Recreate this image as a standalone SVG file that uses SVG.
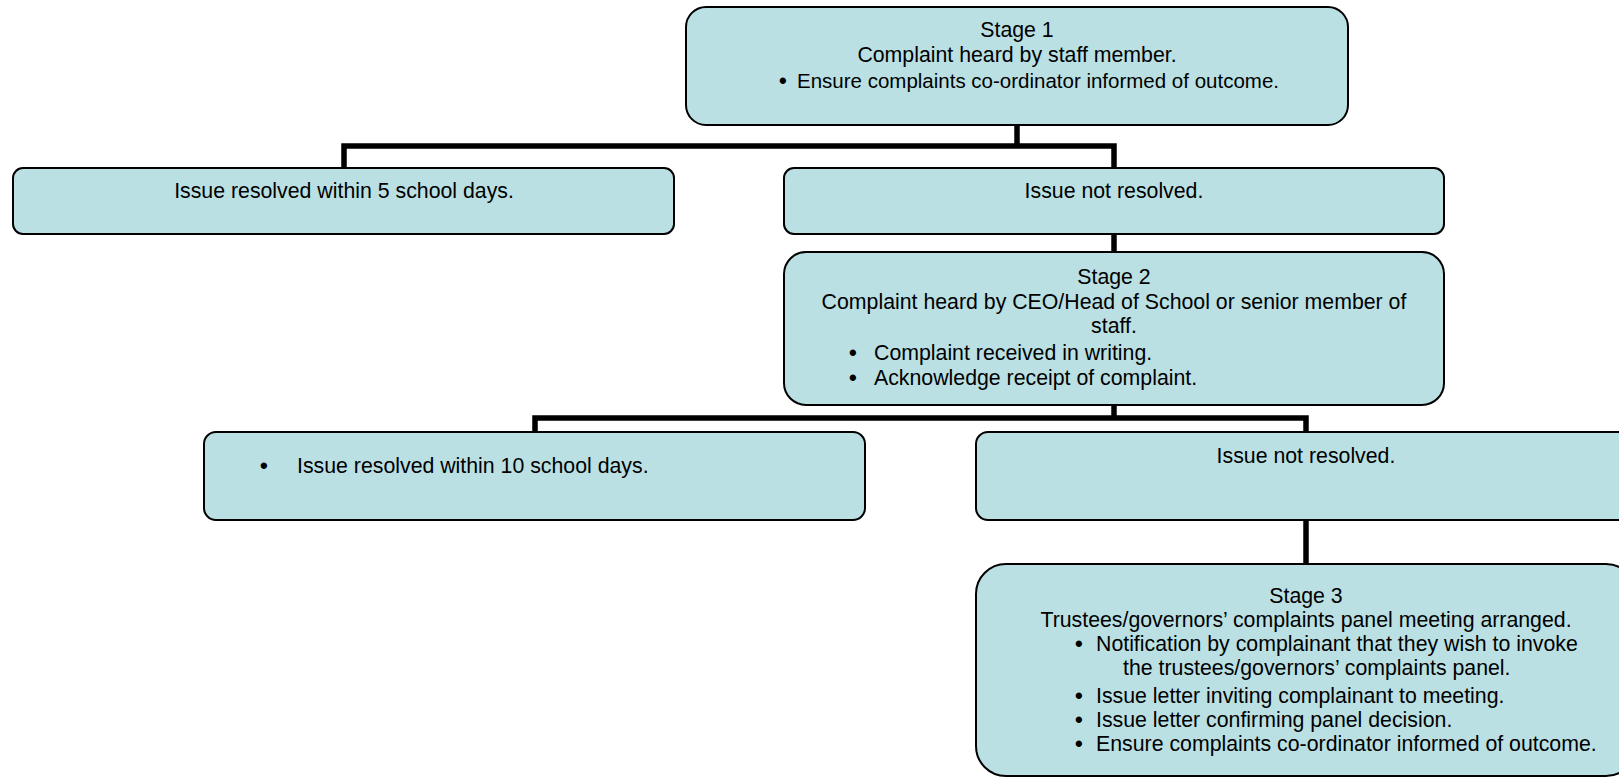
<svg xmlns="http://www.w3.org/2000/svg" width="1619" height="777" viewBox="0 0 1619 777">
<style>
  .box { fill: #BAE0E3; stroke: #000; stroke-width: 2; }
  .t { font-family: "Liberation Sans", Arial, sans-serif; font-size: 21.3px; fill: #000; }
  .s { font-size: 20.5px; }
  .b { font-family: "Liberation Sans", Arial, sans-serif; font-size: 22px; font-weight: bold; fill: #000; }
  .c { text-anchor: middle; }
  .conn { fill: none; stroke: #000; stroke-width: 5.5; stroke-linejoin: miter; stroke-linecap: butt; }
</style>
<rect width="1619" height="777" fill="#fff"/>
<g id="connectors">
  <path class="conn" d="M1017,125 V146"/>
  <path class="conn" d="M344,168 V146 H1114 V168"/>
  <path class="conn" d="M1114,234 V252"/>
  <path class="conn" d="M1114,405 V418"/>
  <path class="conn" d="M535,432 V418 H1306 V432"/>
  <path class="conn" d="M1306,520 V564"/>
</g>
<g id="stage1">
  <rect class="box" x="686" y="7" width="662" height="118" rx="20" ry="20"/>
  <text class="t c" x="1017" y="37">Stage 1</text>
  <text class="t c" x="1017" y="62">Complaint heard by staff member.</text>
  <text class="b" x="779" y="88">•</text>
  <text class="t s" x="797" y="88">Ensure complaints co-ordinator informed of outcome.</text>
</g>
<g id="resolved5">
  <rect class="box" x="13" y="168" width="661" height="66" rx="10" ry="10"/>
  <text class="t c" x="344" y="198">Issue resolved within 5 school days.</text>
</g>
<g id="notresolved1">
  <rect class="box" x="784" y="168" width="660" height="66" rx="10" ry="10"/>
  <text class="t c" x="1114" y="198">Issue not resolved.</text>
</g>
<g id="stage2">
  <rect class="box" x="784" y="252" width="660" height="153" rx="22" ry="22"/>
  <text class="t c" x="1114" y="284">Stage 2</text>
  <text class="t c" x="1114" y="309">Complaint heard by CEO/Head of School or senior member of</text>
  <text class="t c" x="1114" y="333">staff.</text>
  <text class="b" x="849" y="360">•</text>
  <text class="t" x="874" y="360">Complaint received in writing.</text>
  <text class="b" x="849" y="385">•</text>
  <text class="t" x="874" y="385">Acknowledge receipt of complaint.</text>
</g>
<g id="resolved10">
  <rect class="box" x="204" y="432" width="661" height="88" rx="12" ry="12"/>
  <text class="b" x="260" y="473">•</text>
  <text class="t" x="297" y="473">Issue resolved within 10 school days.</text>
</g>
<g id="notresolved2">
  <rect class="box" x="976" y="432" width="660" height="88" rx="12" ry="12"/>
  <text class="t c" x="1306" y="463">Issue not resolved.</text>
</g>
<g id="stage3">
  <rect class="box" x="976" y="564" width="660" height="212" rx="30" ry="30"/>
  <text class="t c" x="1306" y="603">Stage 3</text>
  <text class="t c" x="1306" y="627">Trustees/governors’ complaints panel meeting arranged.</text>
  <text class="b" x="1075" y="651">•</text>
  <text class="t" x="1096" y="651">Notification by complainant that they wish to invoke</text>
  <text class="t" x="1123" y="675">the trustees/governors’ complaints panel.</text>
  <text class="b" x="1075" y="703">•</text>
  <text class="t" x="1096" y="703">Issue letter inviting complainant to meeting.</text>
  <text class="b" x="1075" y="727">•</text>
  <text class="t" x="1096" y="727">Issue letter confirming panel decision.</text>
  <text class="b" x="1075" y="751">•</text>
  <text class="t" x="1096" y="751">Ensure complaints co-ordinator informed of outcome.</text>
</g>
</svg>
